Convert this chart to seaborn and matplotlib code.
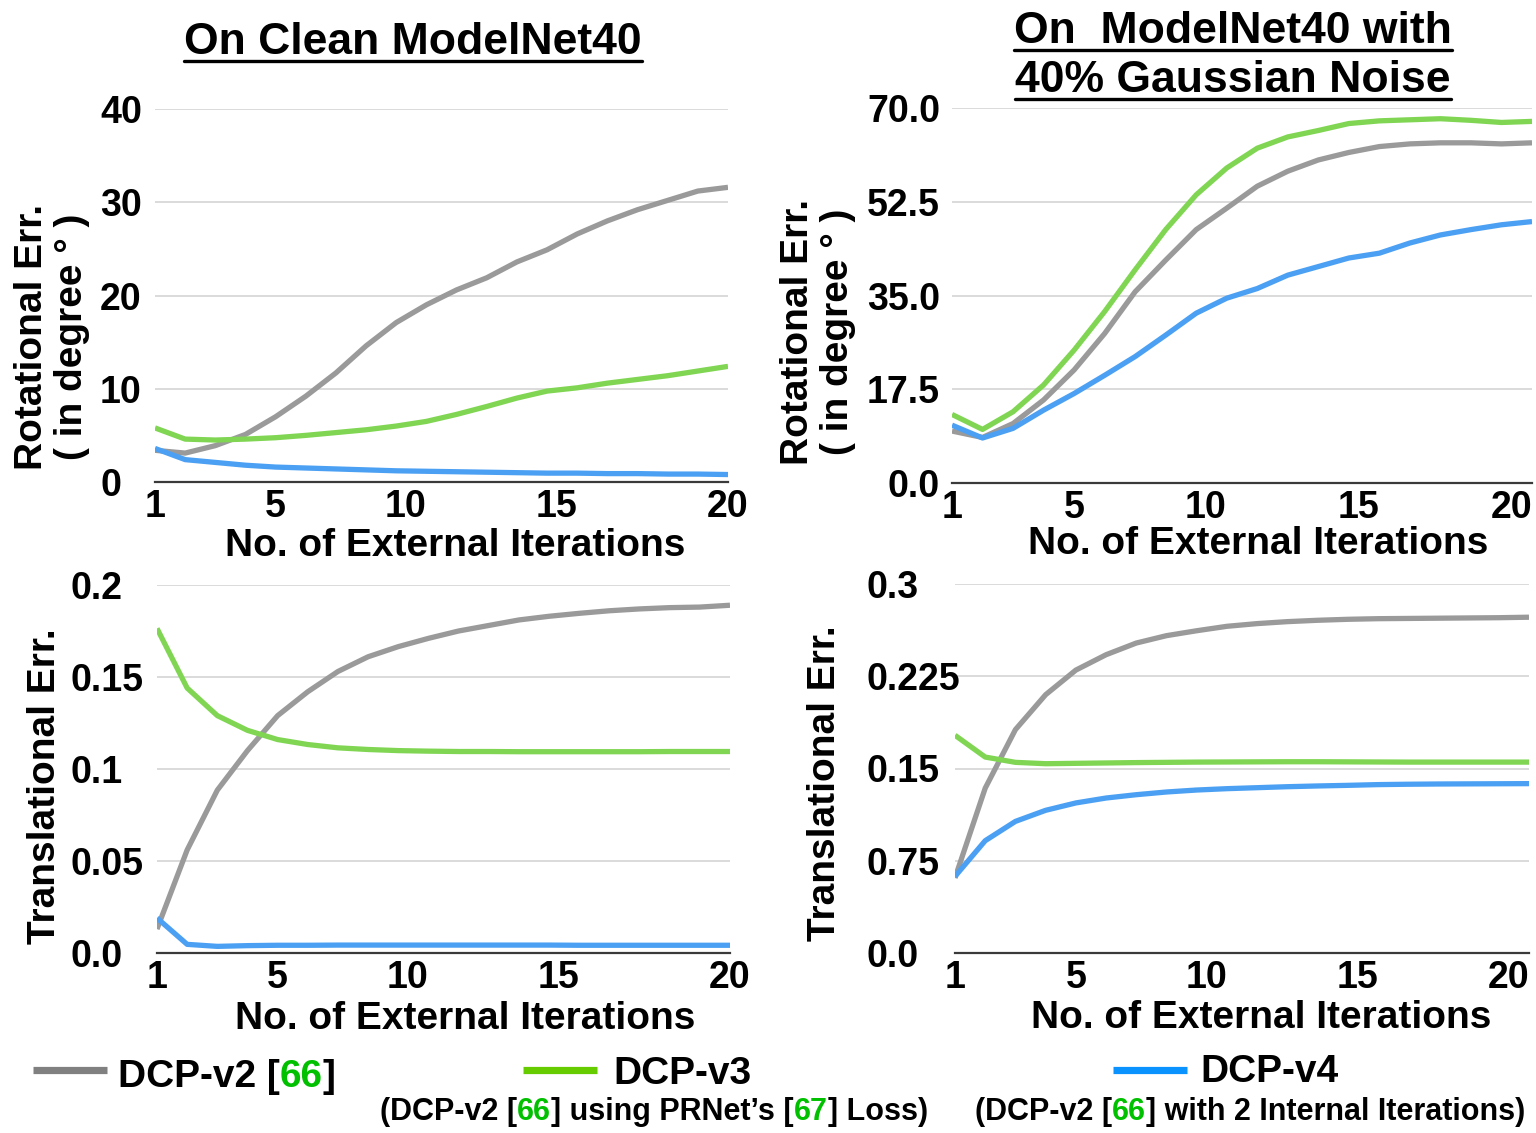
import numpy as np
import pandas as pd
import matplotlib
matplotlib.use("Agg")
from matplotlib import pyplot as plt
from matplotlib.lines import Line2D
from matplotlib.text import Annotation
import seaborn as sns

iters = list(range(1, 21))
methods = ["DCP-v2", "DCP-v3", "DCP-v4"]

# rotational error, clean ModelNet40 (degrees)
clean_rot_v2 = [3.4, 3.1, 3.9, 5.1, 7.0, 9.2, 11.7, 14.6, 17.1, 19.0,
                20.6, 21.9, 23.6, 24.9, 26.6, 28.0, 29.2, 30.2, 31.2, 31.6]
clean_rot_v3 = [5.8, 4.6, 4.5, 4.6, 4.75, 5.0, 5.3, 5.6, 6.0, 6.5,
                7.25, 8.1, 9.0, 9.75, 10.1, 10.6, 11.0, 11.4, 11.9, 12.4]
clean_rot_v4 = [3.6, 2.4, 2.1, 1.8, 1.6, 1.5, 1.4, 1.3, 1.2, 1.15,
                1.1, 1.05, 1.0, 0.95, 0.95, 0.9, 0.9, 0.85, 0.85, 0.8]

# rotational error, 40% gaussian noise
noisy_rot_v2 = [9.7, 8.5, 11.1, 15.5, 21.1, 27.9, 35.7, 41.6, 47.3, 51.3,
                55.4, 58.2, 60.3, 61.7, 62.8, 63.3, 63.5, 63.5, 63.3, 63.5]
noisy_rot_v3 = [12.8, 10.0, 13.3, 18.3, 24.8, 32.0, 39.8, 47.3, 53.8, 58.8,
                62.5, 64.6, 65.8, 67.1, 67.6, 67.8, 68.0, 67.7, 67.3, 67.5]
noisy_rot_v4 = [10.8, 8.4, 10.2, 13.6, 16.7, 20.1, 23.6, 27.6, 31.7, 34.5,
                36.3, 38.8, 40.4, 42.0, 42.9, 44.8, 46.3, 47.3, 48.2, 48.8]

# translational error, clean
clean_trans_v2 = [0.013, 0.056, 0.0885, 0.110, 0.129, 0.142, 0.153, 0.161, 0.1665, 0.171,
                  0.175, 0.178, 0.181, 0.183, 0.1846, 0.186, 0.187, 0.1877, 0.188, 0.189]
clean_trans_v3 = [0.1764, 0.144, 0.129, 0.121, 0.116, 0.1133, 0.1115, 0.1106, 0.110, 0.1097,
                  0.1095, 0.1095, 0.1094, 0.1094, 0.1094, 0.1094, 0.1094, 0.1095, 0.1095, 0.1095]
clean_trans_v4 = [0.019, 0.0047, 0.0036, 0.004, 0.0042, 0.0042, 0.0043, 0.0043, 0.0043, 0.0043,
                  0.0043, 0.0043, 0.0043, 0.0043, 0.0042, 0.0042, 0.0042, 0.0042, 0.0042, 0.0042]

# translational error, 40% gaussian noise
noisy_trans_v2 = [0.061, 0.134, 0.1816, 0.210, 0.230, 0.2425, 0.252, 0.258, 0.262, 0.2656,
                  0.2678, 0.2694, 0.2705, 0.2713, 0.2718, 0.272, 0.2722, 0.2724, 0.2726, 0.273]
noisy_trans_v3 = [0.177, 0.1593, 0.155, 0.1539, 0.1542, 0.1545, 0.1548, 0.155, 0.1552, 0.1553,
                  0.1554, 0.1555, 0.1555, 0.1554, 0.1553, 0.1552, 0.1552, 0.1552, 0.1552, 0.1552]
noisy_trans_v4 = [0.0623, 0.0913, 0.107, 0.116, 0.122, 0.126, 0.1287, 0.1309, 0.1325, 0.1336,
                  0.1344, 0.1352, 0.1358, 0.1363, 0.1369, 0.1372, 0.1374, 0.1375, 0.1376, 0.1377]

x_ticks = [1, 5, 10, 15, 20]
clean_rot_ticks = [0, 10, 20, 30, 40]
clean_rot_labels = ["0", "10", "20", "30", "40"]
noisy_rot_ticks = [0, 17.5, 35, 52.5, 70]
noisy_rot_labels = ["0.0", "17.5", "35.0", "52.5", "70.0"]
clean_trans_ticks = [0, 0.05, 0.1, 0.15, 0.2]
clean_trans_labels = ["0.0", "0.05", "0.1", "0.15", "0.2"]
noisy_trans_ticks = [0, 0.075, 0.15, 0.225, 0.3]
noisy_trans_labels = ["0.0", "0.75", "0.15", "0.225", "0.3"]

line_colors = {"DCP-v2": "#9a9a9a", "DCP-v3": "#80d653", "DCP-v4": "#4ba0f3"}
legend_colors = {"DCP-v2": "#808080", "DCP-v3": "#66cc00", "DCP-v4": "#0a93ff"}
ref_green = "#00c000"

sns.set_theme(style="white")
plt.rcParams["font.family"] = ["Liberation Sans", "DejaVu Sans"]
plt.rcParams["font.weight"] = "bold"
plt.rcParams["text.color"] = "black"

W, H = 1536, 1133
fig = plt.figure(figsize=(W / 100, H / 100), dpi=100)


def px_axes(l, r, t, b):
    return fig.add_axes([l / W, 1 - b / H, (r - l) / W, (b - t) / H])


def long_df(v2, v3, v4):
    frames = []
    for name, vals in zip(methods, [v2, v3, v4]):
        frames.append(pd.DataFrame({"iter": iters, "err": vals, "method": name}))
    return pd.concat(frames, ignore_index=True)


def draw_panel(ax, df, yticks, ylabels, ypad, yha, right_side):
    sns.lineplot(data=df, x="iter", y="err", hue="method", palette=line_colors,
                 linewidth=3.8, legend=False, ax=ax, solid_capstyle="butt")
    ax.set_xlim(1, 20)
    ax.set_ylim(yticks[0], yticks[-1])
    ax.set_xticks(x_ticks)
    ax.set_xticklabels([str(t) for t in x_ticks])
    ax.set_yticks(yticks)
    ax.set_yticklabels(ylabels)
    ax.set_xlabel("")
    ax.set_ylabel("")
    ax.grid(axis="y", color="#d4d4d4", linewidth=1.2)
    ax.set_axisbelow(True)
    for s in ["top", "right", "left"]:
        ax.spines[s].set_visible(False)
    ax.spines["bottom"].set_color("#3a3a3a")
    ax.spines["bottom"].set_linewidth(1.6)
    ax.tick_params(axis="both", length=0, labelsize=27, colors="black")
    ax.tick_params(axis="x", pad=5)
    ax.tick_params(axis="y", pad=ypad)
    plt.setp(ax.get_yticklabels(), ha=yha, fontweight="bold")
    plt.setp(ax.get_xticklabels(), fontweight="bold")
    for lbl in ax.get_xticklabels():
        txt = lbl.get_text()
        if txt in ("10", "15") or (txt == "20" and right_side):
            lbl.set_ha("right")


ax1 = px_axes(155, 728, 109, 482)
draw_panel(ax1, long_df(clean_rot_v2, clean_rot_v3, clean_rot_v4),
           clean_rot_ticks, clean_rot_labels, 55 * 0.72, "left", False)
ax2 = px_axes(952, 1532, 108, 483)
draw_panel(ax2, long_df(noisy_rot_v2, noisy_rot_v3, noisy_rot_v4),
           noisy_rot_ticks, noisy_rot_labels, 12 * 0.72, "right", True)
ax3 = px_axes(157, 730, 585, 953)
draw_panel(ax3, long_df(clean_trans_v2, clean_trans_v3, clean_trans_v4),
           clean_trans_ticks, clean_trans_labels, 87 * 0.72, "left", False)
ax4 = px_axes(955, 1529, 584, 953)
draw_panel(ax4, long_df(noisy_trans_v2, noisy_trans_v3, noisy_trans_v4),
           noisy_trans_ticks, noisy_trans_labels, 89 * 0.72, "left", True)


def ftext(x, y, s, **kw):
    return fig.text(x / W, 1 - y / H, s, **kw)


# axis labels
lab = dict(fontsize=28, fontweight="bold", ha="center", va="center", color="black")
ftext(455, 546, "No. of External Iterations", **lab)
ftext(1258, 544, "No. of External Iterations", **lab)
ftext(465, 1019, "No. of External Iterations", **lab)
ftext(1261, 1018, "No. of External Iterations", **lab)
ftext(52, 337, "Rotational Err.\n( in degree ° )", rotation=90, multialignment="center",
      linespacing=1.15, **lab)
ftext(818, 332, "Rotational Err.\n( in degree ° )", rotation=90, multialignment="center",
      linespacing=1.15, **lab)
ftext(45, 786, "Translational Err.", rotation=90, **lab)
ftext(825, 783, "Translational Err.", rotation=90, **lab)

# titles (underlined)
titles = []
tkw = dict(fontsize=32, fontweight="bold", ha="center", va="baseline", color="black")
titles.append((ftext(413, 54, "On Clean ModelNet40", **tkw), 54))
titles.append((ftext(1233, 43, "On  ModelNet40 with", **tkw), 43))
titles.append((ftext(1233, 92, "40% Gaussian Noise", **tkw), 92))

# legend
leg_y = 1070
for name, x0, x1 in [("DCP-v2", 33, 107), ("DCP-v3", 523, 597), ("DCP-v4", 1113, 1187)]:
    fig.add_artist(Line2D([x0 / W, x1 / W], [1 - leg_y / H, 1 - leg_y / H],
                          color=legend_colors[name], linewidth=5.2, solid_capstyle="butt"))


def chain_text(x, y, parts, size):
    t = ftext(x, y, parts[0][0], color=parts[0][1], fontsize=size,
              fontweight="bold", ha="left", va="baseline")
    for s, c in parts[1:]:
        a = Annotation(s, xy=(1, 0), xycoords=t, va="bottom", ha="left",
                       color=c, fontsize=size, fontweight="bold")
        fig.add_artist(a)
        t = a
    return t


chain_text(118, 1087, [("DCP-v2 [", "black"), ("66", ref_green), ("]", "black")], 28)
chain_text(613, 1084, [("DCP-v3", "black")], 28)
chain_text(1200, 1082, [("DCP-v4", "black")], 28)
chain_text(380, 1120, [("(DCP-v2 [", "black"), ("66", ref_green), ("] using PRNet’s [", "black"),
                       ("67", ref_green), ("] Loss)", "black")], 22)
chain_text(975, 1120, [("(DCP-v2 [", "black"), ("66", ref_green),
                       ("] with 2 Internal Iterations)", "black")], 22)

# underline the titles
fig.canvas.draw()
rend = fig.canvas.get_renderer()
for t, base in titles:
    bb = t.get_window_extent(rend)
    yy = (H - base - 7) / H
    fig.add_artist(Line2D([bb.x0 / W, bb.x1 / W], [yy, yy], color="black", linewidth=2.4))

fig.savefig("out.png", dpi=100, facecolor="white")
